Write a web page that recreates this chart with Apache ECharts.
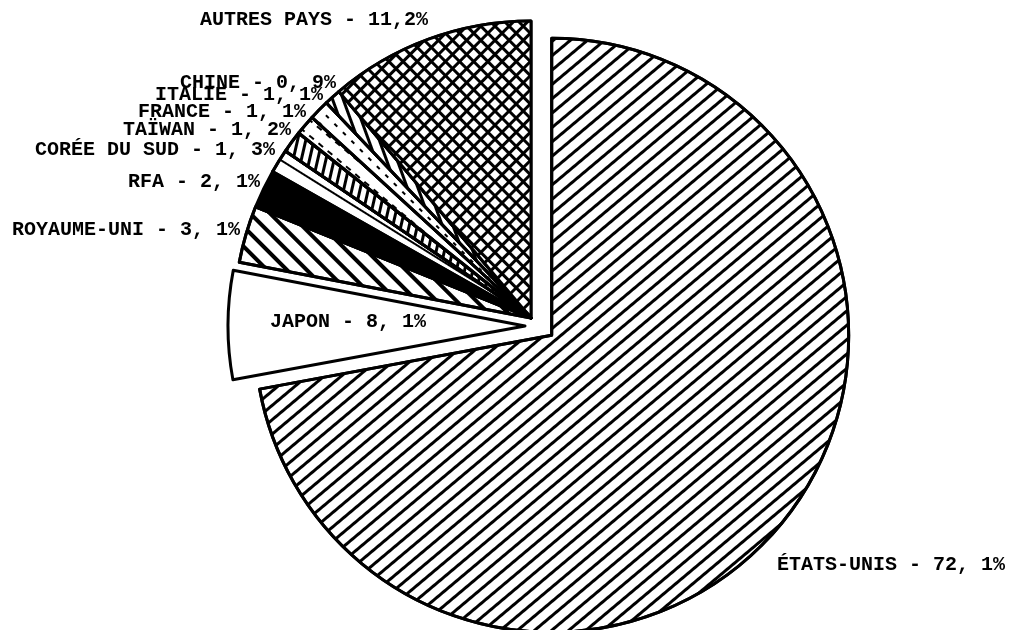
<!DOCTYPE html>
<html>
<head>
<meta charset="utf-8">
<script src="https://cdn.jsdelivr.net/npm/echarts@6/dist/echarts.min.js"></script>
<style>
  html, body { margin: 0; padding: 0; background: #fff; }
  #chart { width: 1016px; height: 630px; }
</style>
</head>
<body>
<div id="chart"></div>
<script>
// ---- data ----
const countries = ['ÉTATS-UNIS', 'JAPON', 'ROYAUME-UNI', 'RFA', 'CORÉE DU SUD', 'TAÏWAN', 'FRANCE', 'ITALIE', 'CHINE', 'AUTRES PAYS'];
// percentages printed in the labels
const printedPct = [72.1, 8.1, 3.1, 2.1, 1.3, 1.2, 1.1, 1.1, 0.9, 11.2];
const printedText = ['72, 1%', '8, 1%', '3, 1%', '2, 1%', '1, 3%', '1, 2%', '1, 1%', '1, 1%', '0, 9%', '11,2%'];
// share of the disc each slice actually occupies in the picture
// (Japon is drawn as the remaining ~21° of the circle, i.e. about 5.9%)
const drawnShare = [72.1, 5.9, 3.1, 2.1, 1.3, 1.2, 1.1, 1.1, 0.9, 11.2];
// which drawn piece each slice belongs to (0 = main disc, 1 = exploded États-Unis, 2 = exploded Japon)
const sliceGroup = [1, 2, 0, 0, 0, 0, 0, 0, 0, 0];

// ---- layout / styles ----
const groupCenters = [[531, 318], [551.7, 335.3], [525, 326]];
const pieRadius = 297;

function stripes(width, gap, deg, color) {
  return { symbol: 'rect', symbolSize: 1, color: color || '#000', dashArrayX: [1, 0], dashArrayY: [width, gap], rotation: deg * Math.PI / 180 };
}
const sliceStyles = [
  { color: '#fff', decal: stripes(2.6, 7.6, -40) },            // États-Unis  ////
  { color: '#fff' },                                           // Japon blank
  { color: '#fff', decal: stripes(4, 10, 45) },                // Royaume-Uni \\\\
  { color: '#000' },                                           // RFA solid
  { color: '#fff', decal: stripes(1.2, 12, 32) },              // Corée du Sud
  { color: '#fff', decal: stripes(3, 5, -77) },                // Taïwan rungs
  { color: '#fff', decal: { symbol: 'rect', symbolSize: 1, color: '#000', dashArrayX: [6, 6], dashArrayY: [2, 10], rotation: 40 * Math.PI / 180 } }, // France
  { color: '#fff', decal: { symbol: 'rect', symbolSize: 1, color: '#000', dashArrayX: [4, 8], dashArrayY: [2, 8], rotation: 45 * Math.PI / 180 } },  // Italie
  { color: '#fff', decal: stripes(2.2, 7, 70) },               // Chine
  { color: '#000', decal: { symbol: 'rect', symbolSize: 1, color: '#fff', dashArrayX: [6.4, 2.5], dashArrayY: [6.4, 2.5], rotation: 45 * Math.PI / 180 } } // Autres pays crosshatch
];
// label anchor (left, middle) on the page
const labelAnchor = [[777, 565], [270, 322], [12, 230], [128, 182], [35, 150], [123, 130], [138, 112], [155, 95], [180, 83], [200, 20]];

const chart = echarts.init(document.getElementById('chart'), null, { renderer: 'canvas' });

const series = groupCenters.map((center, g) => ({
  type: 'pie',
  center: center,
  radius: pieRadius,
  startAngle: 90,
  clockwise: true,
  avoidLabelOverlap: false,
  silent: true,
  emphasis: { disabled: true },
  label: {
    show: true,
    position: 'outside',
    overflow: 'none',
    formatter: p => countries[p.dataIndex] + ' - ' + printedText[p.dataIndex],
    fontFamily: 'Liberation Mono',
    fontWeight: 'bold',
    fontSize: 20,
    color: '#000'
  },
  labelLine: { show: false },
  labelLayout: p => ({ x: labelAnchor[p.dataIndex][0], y: labelAnchor[p.dataIndex][1], align: 'left', verticalAlign: 'middle' }),
  data: countries.map((name, i) => {
    const mine = sliceGroup[i] === g;
    return {
      name: name,
      value: drawnShare[i],
      itemStyle: mine
        ? Object.assign({ borderColor: '#000', borderWidth: 3 }, sliceStyles[i])
        : { color: 'rgba(0,0,0,0)', borderWidth: 0 },
      label: { show: mine }
    };
  })
}));

chart.setOption({
  animation: false,
  backgroundColor: '#fff',
  series: series
});
</script>
</body>
</html>
